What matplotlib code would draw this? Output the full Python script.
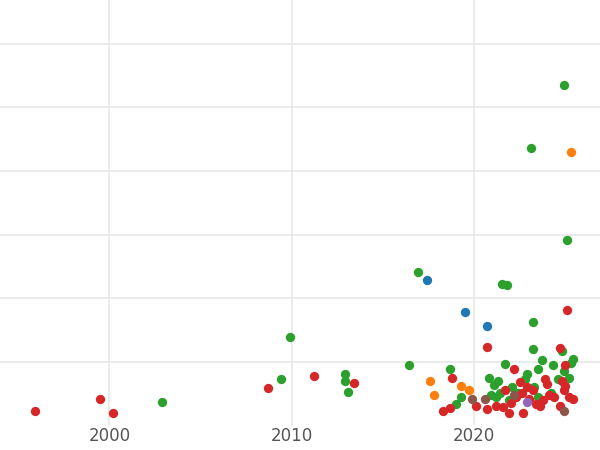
import matplotlib
matplotlib.use("Agg")
import matplotlib.pyplot as plt

red_x = [1995.9,1999.5,2000.2,2008.7,2011.2,2013.4,2018.8,2018.3,2018.7,2020.1,2020.7,2022.2,2022.7,2024.7,2025.1,2025.0,
         2020.7,2021.2,2021.6,2021.9,2022.0,2022.3,2022.6,2022.9,2023.2,2023.4,2023.6,2023.8,2024.0,2024.1,2024.4,2024.7,2024.9,2025.0,2025.2,2025.4,2024.8,2023.9,2022.5,2021.7,2023.0]
red_y = [0.23,0.42,0.2,0.59,0.77,0.66,0.75,0.22,0.27,0.3,1.23,0.88,0.19,1.22,1.81,0.94,
         0.25,0.3,0.28,0.2,0.35,0.45,0.5,0.6,0.55,0.33,0.3,0.4,0.65,0.48,0.45,0.3,0.55,0.62,0.45,0.42,0.7,0.72,0.68,0.55,0.42]
green_x = [2002.9,2009.4,2009.9,2012.9,2012.9,2013.1,2016.4,2016.9,2018.7,2019.0,2019.3,2020.8,2021.3,2021.1,2021.5,2021.8,2021.7,2023.1,2023.2,2023.2,2023.7,2023.5,2022.9,2024.3,2024.9,2025.1,2024.8,2025.4,2025.3,2020.9,2021.2,
           2021.9,2022.4,2022.8,2023.3,2023.5,2024.2,2024.6,2024.9,2025.2,2021.4,2022.1]
green_y = [0.36,0.72,1.39,0.8,0.69,0.52,0.95,2.41,0.88,0.34,0.45,0.75,0.69,0.63,2.22,2.2,0.97,4.36,1.63,1.2,1.02,0.89,0.81,0.95,5.36,2.91,1.17,1.05,0.98,0.47,0.44,
           0.4,0.5,0.72,0.6,0.45,0.5,0.72,0.85,0.75,0.5,0.6]
blue_x = [2017.4,2019.5,2020.7]
blue_y = [2.28,1.78,1.56]
orange_x = [2017.6,2017.8,2019.3,2019.7,2025.3]
orange_y = [0.69,0.48,0.61,0.56,4.3]
purple_x = [2022.9]
purple_y = [0.37]
brown_x = [2019.9,2020.6,2024.9,2022.2]
brown_y = [0.42,0.41,0.23,0.47]

fig = plt.figure(figsize=(6, 4.5), dpi=100)
ax = fig.add_axes([0, 0.055, 1, 0.945])
series = [(blue_x, blue_y, "#1f77b4"), (orange_x, orange_y, "#ff7f0e"),
          (green_x, green_y, "#2ca02c"), (red_x, red_y, "#d62728"),
          (purple_x, purple_y, "#9467bd"), (brown_x, brown_y, "#8c564b")]
for xs, ys, c in series:
    ax.scatter(xs, ys, s=45, color=c, linewidths=0, zorder=3)
ax.set_xlim(1994, 2026.9)
ax.set_ylim(0.0, 6.69)
ax.set_xticks([2000, 2010, 2020])
ax.set_yticks([1, 2, 3, 4, 5, 6])
ax.set_yticklabels([])
ax.grid(True, color="#e8e8e8", linewidth=1.2, zorder=0)
ax.tick_params(length=0, labelsize=12, labelcolor="#555555", pad=1)
for s in ax.spines.values():
    s.set_visible(False)
fig.savefig("out.png", dpi=100)
